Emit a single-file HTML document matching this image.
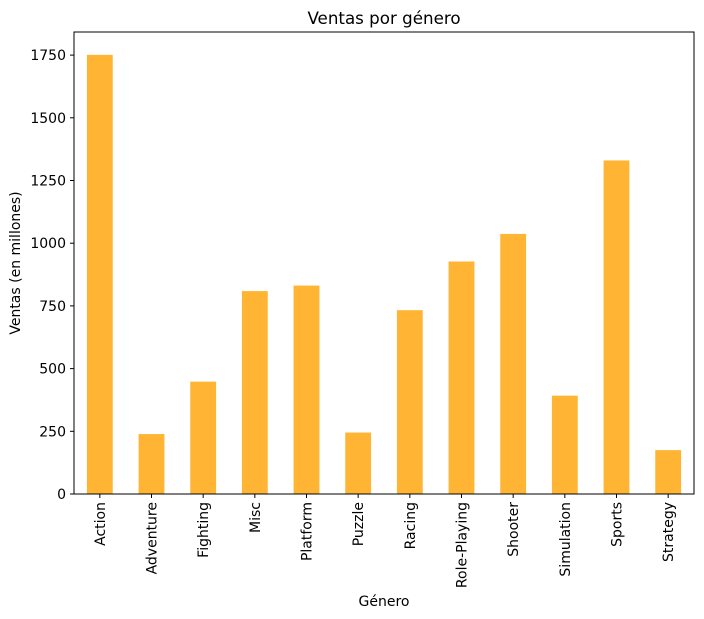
<!DOCTYPE html>
<html><head><meta charset="utf-8"><style>
body{margin:0;background:#fff;}
svg{display:block;font-family:"DejaVu Sans","Liberation Sans",sans-serif;}
</style></head><body>
<svg id="chart" width="704" height="619">
<text x="384" y="24" font-size="16.7" text-anchor="middle">Ventas por género</text>
<g id="bars"></g><g id="yaxis"></g><g id="xaxis"></g>
<rect x="74" y="32" width="620" height="462" fill="none" stroke="#000" stroke-width="1"/>
<text x="384" y="606" font-size="14" text-anchor="middle">Género</text>
<text transform="translate(20,263) rotate(-90)" font-size="14" text-anchor="middle">Ventas (en millones)</text>
</svg>
<script>
const categories=["Action","Adventure","Fighting","Misc","Platform","Puzzle","Racing","Role-Playing","Shooter","Simulation","Sports","Strategy"];
const sales=[1751,239,448,809,831,245,733,927,1037,392,1330,175];
const yTicks=[0,250,500,750,1000,1250,1500,1750];
const NS="http://www.w3.org/2000/svg";
const L=74,R=694,B=494;
const y=v=>B-v*(62.7/250);
const step=(R-L)/categories.length;
const xc=i=>L+step*(i+0.5);
const bw=step*0.5;
function mk(tag,attrs,parent){const e=document.createElementNS(NS,tag);for(const k in attrs)e.setAttribute(k,attrs[k]);parent.appendChild(e);return e;}
const gb=document.getElementById('bars'),gy=document.getElementById('yaxis'),gx=document.getElementById('xaxis');
sales.forEach((v,i)=>{
 const r=mk('rect',{x:xc(i)-bw/2,y:y(v),width:bw,height:B-y(v),fill:'#ffb533'},gb);
 
 
 mk('line',{x1:xc(i),x2:xc(i),y1:B,y2:B+4,stroke:'#000'},gx);
 const t=mk('text',{transform:`translate(${xc(i)+5},${B+8}) rotate(-90)`,'font-size':14,'text-anchor':'end'},gx);
 t.textContent=categories[i];
 
 
});
yTicks.forEach(v=>{
 mk('line',{x1:L-4,x2:L,y1:y(v),y2:y(v),stroke:'#000'},gy);
 const t=mk('text',{x:L-8,y:y(v)+5,'font-size':14,'text-anchor':'end'},gy);
 t.textContent=v;
 
 
});
</script>
</body></html>
